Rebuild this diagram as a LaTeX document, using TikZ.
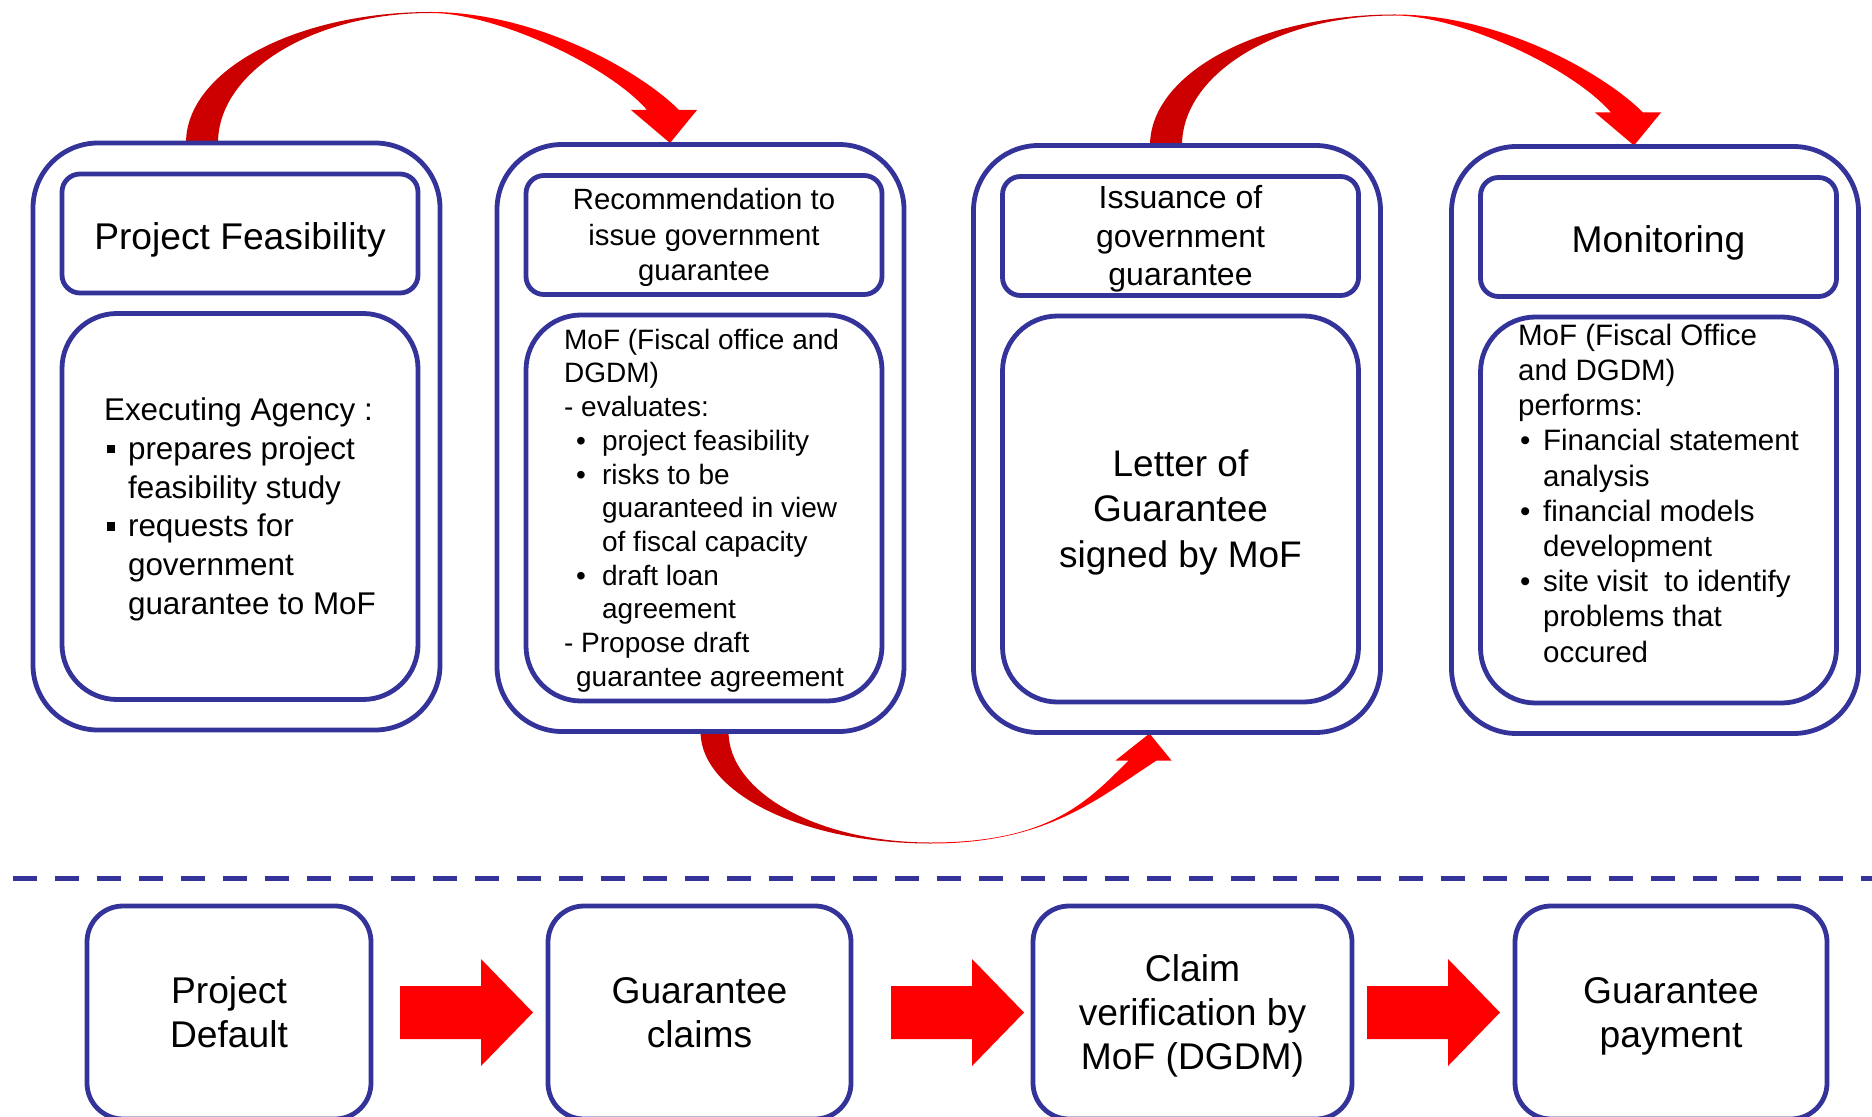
\documentclass[tikz,border=0pt]{standalone}
\usepackage{fontspec}
\setmainfont{Liberation Sans}
\usetikzlibrary{positioning,backgrounds}

\definecolor{frameblue}{HTML}{333399}
\definecolor{ribbondark}{HTML}{CC0000}
\definecolor{ribbonred}{HTML}{FF0000}

\newcommand{\ppstrut}{\rule[-0.212em]{0pt}{1.117em}}
\newcommand{\onestrut}{\rule[-0.212em]{0pt}{1.26em}}
\newcommand{\sqbul}{\makebox[12pt][l]{\hspace{1.5pt}\rule[3pt]{4.2pt}{4.2pt}}}
\newcommand{\recbul}{\hspace*{6pt}\makebox[13pt][l]{\textbullet}}
\newcommand{\monbul}{\makebox[12.5pt][l]{\hspace{1pt}\textbullet}}

\begin{document}
\begin{tikzpicture}[
        x=0.5pt, y=-0.5pt,
        every node/.style={align=center, inner sep=0pt, outer sep=0pt},
        stage/.style={draw=frameblue, line width=2.4pt, rounded corners=32.5pt, minimum width=203.5pt, minimum height=293.5pt},
        head/.style={draw=frameblue, line width=2.4pt, rounded corners=9pt, minimum width=178pt, minimum height=59.5pt},
        body/.style={draw=frameblue, line width=2.4pt, rounded corners=27.5pt, minimum width=178pt, minimum height=193pt},
        claim/.style={draw=frameblue, line width=2.4pt, rounded corners=18pt, minimum height=106.5pt, font=\fontsize{18.6pt}{22pt}\selectfont},
        bodytext/.style={align=left},
        topribbon/.pic={
            \fill[ribbondark] (0,0) .. controls (0,-72.4) and (109.7,-131) .. (245,-131)
                -- (245,-130) .. controls (127.4,-130) and (32,-71.8) .. (32,0) -- cycle;
            \fill[ribbonred] (245,-131) .. controls (349,-131) and (453,-73) .. (493,-33)
                -- (511,-33) -- (484,0) -- (445,-33) -- (461,-33)
                .. controls (421,-79) and (308,-130) .. (245,-130) -- cycle;
        },
        lowribbon/.pic={
            \fill[ribbondark] (0,0) .. controls (0,61.9) and (103,112) .. (230,112)
                -- (230,111) .. controls (118.4,111) and (28,61.3) .. (28,0) -- cycle;
            \fill[ribbonred] (230,112) .. controls (346,112) and (396,68) .. (456,29)
                -- (471,29) -- (449,2) -- (415,29) -- (428,29)
                .. controls (388,69) and (350,111) .. (230,111) -- cycle;
        },
        blockarrow/.pic={
            \fill[ribbonred] (0,-26.5) -- (81,-26.5) -- (81,-53.5) -- (133,0)
                -- (81,53.5) -- (81,26.5) -- (0,26.5) -- cycle;
        }
    ]
    \useasboundingbox (0,0) rectangle (1872,1117);

    % Stages
    \node[stage] (pf) at (236.5,436.5) {};
    \node[stage] (rec) at (700.5,438) {};
    \node[stage] (iss) at (1177,439) {};
    \node[stage] (mon) at (1655,440) {};

    % Stage titles
    \node[head, below=15.5pt of pf.north, xshift=1.75pt, font=\fontsize{18.6pt}{22pt}\selectfont] (pfhead) {\onestrut Project Feasibility};
    \node[head, below=15.5pt of rec.north, xshift=1.75pt, font=\fontsize{14.65pt}{17.85pt}\selectfont] (rechead) {\ppstrut Recommendation to\\issue government\\guarantee\ppstrut};
    \node[head, below=15.5pt of iss.north, xshift=1.75pt, font=\fontsize{16pt}{19.4pt}\selectfont] (isshead) {\ppstrut Issuance of\\government\\guarantee\ppstrut};
    \node[head, below=15.5pt of mon.north, xshift=1.75pt, font=\fontsize{18.6pt}{22pt}\selectfont] (monhead) {\onestrut Monitoring};

    % Stage contents
    \node[body, bodytext, below=10.25pt of pfhead, font=\fontsize{15.7pt}{19.35pt}\selectfont] (pfbody) {%
        \ppstrut Executing Agency :\\
        \sqbul prepares project\\
        \hspace*{12pt}feasibility study\\
        \sqbul requests for\\
        \hspace*{12pt}government\\
        \hspace*{12pt}guarantee to MoF\ppstrut};
    \node[body, bodytext, below=10.25pt of rechead, font=\fontsize{14pt}{16.85pt}\selectfont] (recbody) {%
        \ppstrut MoF (Fiscal office and\\
        DGDM)\\
        - evaluates:\\
        \recbul project feasibility\\
        \recbul risks to be\\
        \hspace*{19pt}guaranteed in view\\
        \hspace*{19pt}of fiscal capacity\\
        \recbul draft loan\\
        \hspace*{19pt}agreement\\
        - Propose draft\\
        \hspace*{6pt}guarantee agreement\ppstrut};
    \node[body, below=10.25pt of isshead, font=\fontsize{18.5pt}{22.7pt}\selectfont] (issbody) {\ppstrut Letter of\\Guarantee\\signed by MoF\ppstrut};
    \node[body, below=10.25pt of monhead] (monbody) {};
    \node[bodytext, font=\fontsize{14.75pt}{17.6pt}\selectfont] (montext) at ([yshift=8.25pt]monbody.center) {%
        \ppstrut MoF (Fiscal Office\\
        and DGDM)\\
        performs:\\
        \monbul Financial statement\\
        \hspace*{12.5pt}analysis\\
        \monbul financial models\\
        \hspace*{12.5pt}development\\
        \monbul site visit\ \ to identify\\
        \hspace*{12.5pt}problems that\\
        \hspace*{12.5pt}occured\ppstrut};

    % Separator
    \draw[frameblue, line width=2.5pt, dash pattern=on 12pt off 9pt] (13,878) -- (1880,878);

    % Claim procedure
    \node[claim, minimum width=142pt] (default) at (229,1012.5) {\ppstrut Project\\Default\ppstrut};
    \node[claim, minimum width=151.5pt] (claims) at (699.5,1012.5) {\ppstrut Guarantee\\claims\ppstrut};
    \node[claim, minimum width=159.5pt] (verify) at (1192.5,1012.5) {\ppstrut Claim\\verification by\\MoF (DGDM)\ppstrut};
    \node[claim, minimum width=156pt] (payment) at (1671,1012.5) {\ppstrut Guarantee\\payment\ppstrut};

    \pic at ([xshift=14.5pt]default.east) {blockarrow};
    \pic at ([xshift=20pt]claims.east) {blockarrow};
    \pic at ([xshift=7.5pt]verify.east) {blockarrow};

    % Curved arrows
    \begin{scope}[on background layer]
        \pic at ([xshift=-25.25pt]pf.north) {topribbon};
        \pic at ([xshift=-13.5pt]iss.north) {topribbon};
        \pic at (rec.south) {lowribbon};
    \end{scope}

\end{tikzpicture}
\end{document}
